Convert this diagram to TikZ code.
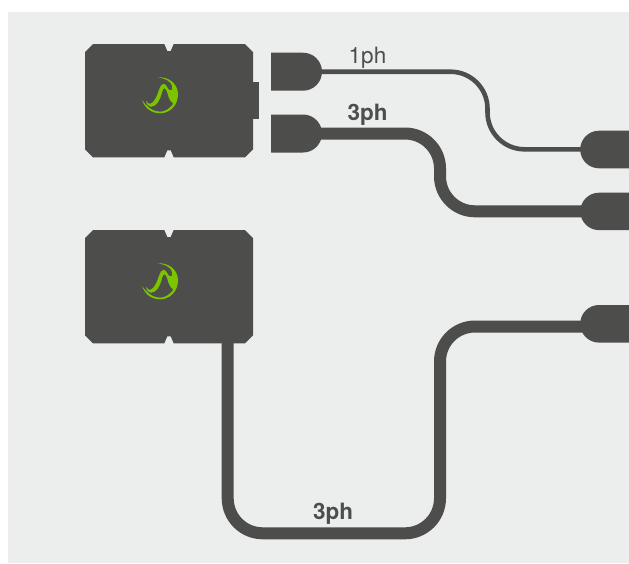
\documentclass[tikz,border=0pt]{standalone}
\usepackage{fontspec}
\setmainfont{TeX Gyre Heros}
\definecolor{dark}{HTML}{4D4D4B}
\definecolor{paper}{HTML}{ECEEED}
\definecolor{leaf}{HTML}{7DC400}
\tikzset{
  x=1pt,y=-1pt,
  thincable/.style={draw=dark,line width=4.6pt,rounded corners=37pt},
  thickcable/.style={draw=dark,line width=12pt,rounded corners=35pt},
  solid dark/.style={fill=dark,draw=none},
  lab/.style={text=dark,font=\fontsize{22.5}{24}\selectfont,inner sep=0pt,anchor=base},
  blab/.style={lab,font=\fontsize{22.5}{24}\selectfont\bfseries},
  pics/unit/.style={code={
    \fill[dark] (8,0) -- (79.3,0) -- (82.3,7) -- (85.7,7) -- (88.7,0)
      -- (160,0) -- (168,8) -- (168,105.3) -- (160,113.3) -- (88.7,113.3)
      -- (85.7,106.3) -- (82.3,106.3) -- (79.3,113.3)
      -- (8,113.3) -- (0,105.3) -- (0,8) -- cycle;
    \begin{scope}[shift={(75,51.3)}]
      \fill[leaf] (-2.7,-18) .. controls (8,-19) and (18,-12) .. (18,-1)
        .. controls (18,10) and (10,18) .. (0,18)
        .. controls (-9,18) and (-16,12) .. (-17.7,4.7)
        .. controls (-14,11) and (-7,16.4) .. (0,16.4)
        .. controls (5,16.4) and (10,13) .. (13.3,8.5)
        .. controls (11,7) and (9.5,4) .. (8.5,1.5)
        .. controls (7.5,-2) and (6.3,-6.5) .. (4.6,-7)
        .. controls (3,-7) and (2,-3) .. (1.2,-0.3)
        .. controls (0,4) and (-3,11.3) .. (-9,11.5)
        .. controls (-11.5,11.5) and (-13.5,9) .. (-14,5.5)
        .. controls (-12.5,8) and (-11,8.8) .. (-9.5,8.4)
        .. controls (-6,7.5) and (-3,1) .. (-1,-5.5)
        .. controls (0,-8.5) and (1.5,-11.5) .. (3.5,-11.5)
        .. controls (6,-11.5) and (7.5,-7) .. (9,-5.5)
        .. controls (10,-4.5) and (11,-4.5) .. (11.7,-5)
        .. controls (12.8,-8) and (12.2,-10.5) .. (10.5,-12.5)
        .. controls (7,-16) and (2,-17.5) .. (-2.7,-18) -- cycle;
    \end{scope}
  }},
}
\begin{document}
\begin{tikzpicture}
\useasboundingbox (0,0) rectangle (629,563);
\fill[paper] (8,12) rectangle (629,563);

% connectors' end points
\coordinate (p1) at (300,71.7);
\coordinate (p2) at (300,133.5);
\coordinate (q1) at (600,149.3);
\coordinate (q2) at (600,211.3);
\coordinate (q3) at (600,326.5);
\coordinate (b2) at (227.7,330);
\coordinate (c1a) at (487.5,71.7);
\coordinate (c1b) at (487.5,149.3);
\coordinate (c2a) at (440,133.5);
\coordinate (c2b) at (440,211.3);
\coordinate (c3a) at (227.7,533.3);
\coordinate (c3b) at (440,533.3);
\coordinate (c3c) at (440,326.5);

\draw[thincable] (p1) -- (c1a) -- (c1b) -- (q1);
\draw[thickcable] (p2) -- (c2a) -- (c2b) -- (q2);
\draw[thickcable] (b2) -- (c3a) -- (c3b) -- (c3c) -- (q3);

% units
\fill[solid dark] (250,81.7) rectangle (259.3,119.3);
\pic at (85,44) {unit};
\pic at (85,230) {unit};

% left plugs
\fill[solid dark] (271,52.7) -- (303,52.7) arc[start angle=-90,end angle=90,radius=19] -- (271,90.7) -- cycle;
\fill[solid dark] (271,114.5) -- (303,114.5) arc[start angle=-90,end angle=90,radius=19] -- (271,152.5) -- cycle;

% right plugs
\fill[solid dark] (629,130.7) -- (599,130.7) arc[start angle=-90,end angle=-270,radius=18.8] -- (629,168.3) -- cycle;
\fill[solid dark] (629,192.7) -- (599,192.7) arc[start angle=-90,end angle=-270,radius=18.7] -- (629,230.1) -- cycle;
\fill[solid dark] (629,305) -- (599,305) arc[start angle=-90,end angle=-270,radius=18.8] -- (629,342.6) -- cycle;

% labels
\node[lab] (l1) at (367.5,63) {1ph};
\node[blab] (l2) at (367.5,120) {3ph};
\node[blab] (l3) at (333,519.5) {3ph};
\end{tikzpicture}
\end{document}
